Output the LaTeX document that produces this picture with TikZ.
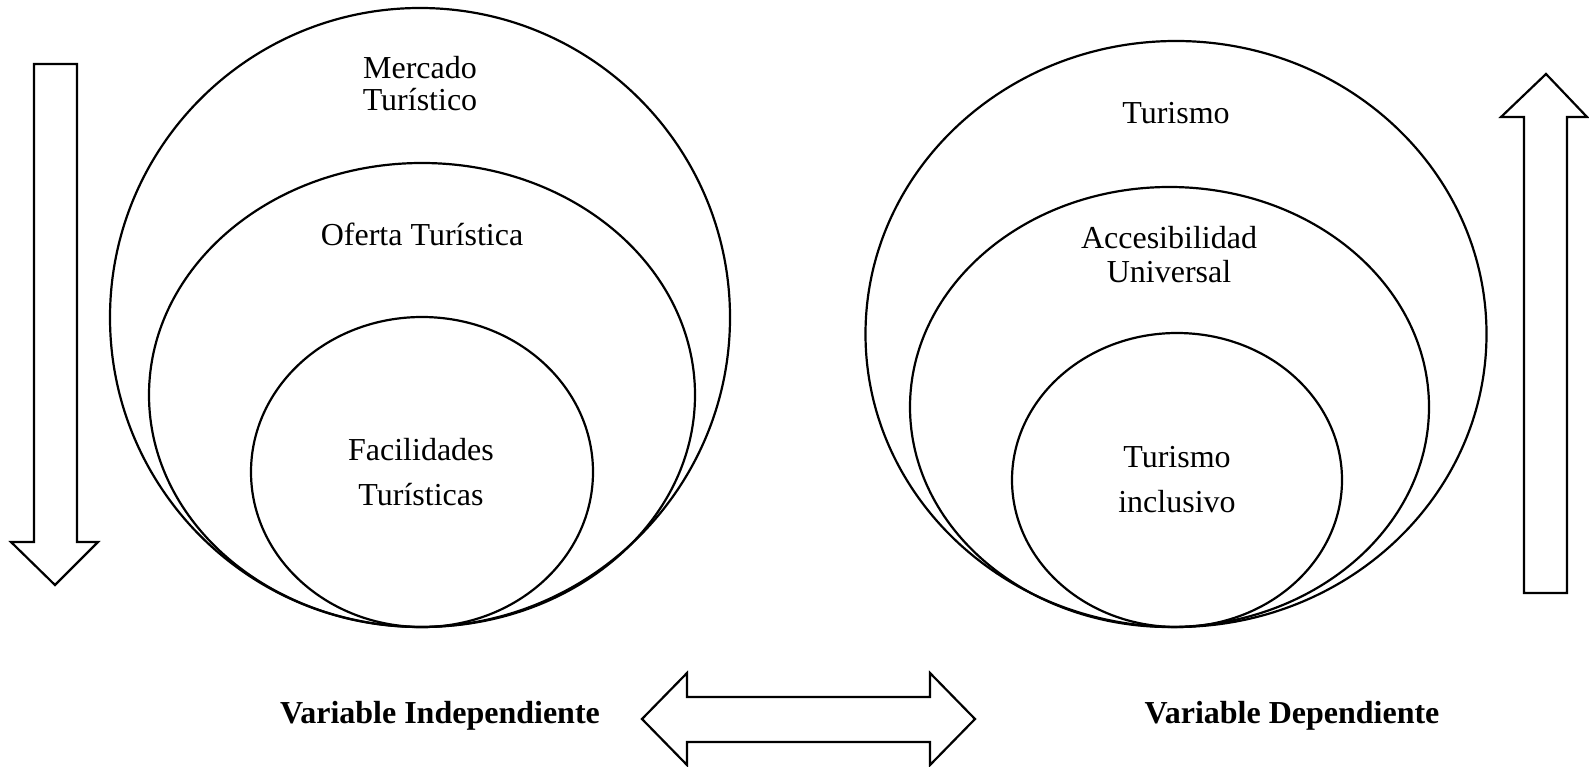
\documentclass[tikz,border=0pt]{standalone}
\usepackage{fontspec}
\setmainfont{Liberation Serif}
\usepackage{tikz}

\tikzset{
  capa/.style={line width=2.2pt},
  flecha/.style={line width=2.2pt, line join=miter},
  etiqueta/.style={font=\fontsize{32}{32}\selectfont, align=center, inner sep=0pt, anchor=base},
  rotulovar/.style={font=\fontsize{32}{32}\selectfont\bfseries, inner sep=0pt, anchor=base}
}

\begin{document}
\begin{tikzpicture}[x=1pt, y=-1pt]
\useasboundingbox (0,0) rectangle (1589,767);

% variable independiente
\draw[capa] (420,317.5) ellipse [x radius=310pt, y radius=309.5pt];
\draw[capa] (422,395) ellipse [x radius=273pt, y radius=232pt];
\draw[capa] (422,472) ellipse [x radius=171pt, y radius=155pt];
\node[etiqueta] (mercado) at (420,111) {Mercado\\Turístico};
\node[etiqueta] (oferta) at (422,246) {Oferta Turística};
\node[etiqueta] (facilidades) at (421,505) {Facilidades\\[13pt]Turísticas};

% variable dependiente
\draw[capa] (1176,334) ellipse [x radius=310.5pt, y radius=293pt];
\draw[capa] (1169.5,407) ellipse [x radius=259.5pt, y radius=220pt];
\draw[capa] (1177,480) ellipse [x radius=165pt, y radius=147pt];
\node[etiqueta] (turismo) at (1176,124) {Turismo};
\node[etiqueta] (accesibilidad) at (1169,282) {Accesibilidad\\[2pt]Universal};
\node[etiqueta] (inclusivo) at (1177,512) {Turismo\\[13pt]inclusivo};

% flechas
\draw[flecha] (34,64) -- (77,64) -- (77,542) -- (98,542) -- (55,585)
  -- (11,542) -- (34,542) -- cycle;
\draw[flecha] (1524,593) -- (1567,593) -- (1567,117) -- (1587,117) -- (1546,74)
  -- (1501,117) -- (1524,117) -- cycle;
\draw[flecha] (642,719) -- (687,673) -- (687,697) -- (930,697) -- (930,673)
  -- (975,719) -- (930,765) -- (930,742) -- (687,742) -- (687,765) -- cycle;

\node[rotulovar] (independiente) at (440,723) {Variable Independiente};
\node[rotulovar] (dependiente) at (1292,723) {Variable Dependiente};
\end{tikzpicture}
\end{document}
